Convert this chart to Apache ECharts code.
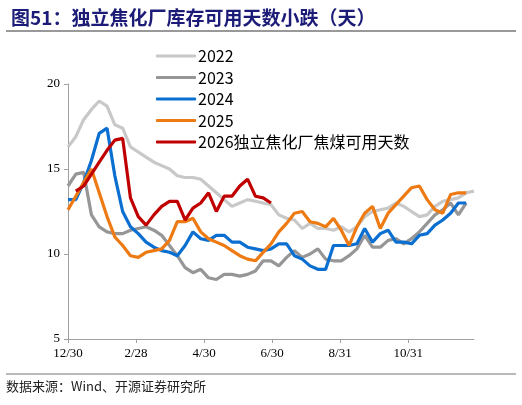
<!DOCTYPE html>
<html><head><meta charset="utf-8">
<script src="https://cdn.jsdelivr.net/npm/echarts@6/dist/echarts.min.js"></script>
<style>body{margin:0;background:#fff}#c{width:522px;height:405px}</style>
</head><body><div id="c"></div>
<script>
const tickDays=[0,61,122,183,244,305];
const tickLabels=['12/30','2/28','4/30','6/30','8/31','10/31'];
const s2022=[16.3,16.9,17.9,18.5,19.0,18.7,17.6,17.4,16.3,16.0,15.7,15.4,15.2,15.0,14.6,14.5,14.5,14.4,14.0,13.6,13.2,12.8,13.0,13.2,13.1,13.0,12.9,12.3,12.1,12.0,11.5,11.8,11.5,11.5,11.4,11.6,11.3,11.6,12.2,12.5,12.6,12.7,13.0,12.8,12.5,12.2,12.3,12.8,13.1,13.2,13.3,13.6,13.7];
const s2023=[14.0,14.7,14.8,12.3,11.6,11.3,11.2,11.2,11.4,11.5,11.6,11.4,11.1,10.5,9.9,9.2,8.9,9.1,8.6,8.5,8.8,8.8,8.7,8.8,9.0,9.6,9.6,9.3,9.8,10.2,9.8,10.0,10.3,9.7,9.6,9.6,9.9,10.3,11.1,10.4,10.4,10.8,10.9,10.6,10.9,11.3,11.8,12.3,12.6,13.0,12.3,13.0,null];
const s2024=[13.2,13.2,14.2,15.5,17.1,17.4,14.6,12.5,11.6,11.2,10.7,10.4,10.2,10.1,9.9,10.5,11.3,10.9,10.8,11.1,11.1,10.7,10.7,10.4,10.3,10.2,10.3,10.6,10.6,9.9,9.7,9.3,9.1,9.1,10.5,10.5,10.5,10.6,11.5,10.7,11.2,11.4,10.7,10.7,10.6,11.1,11.2,11.7,12.0,12.4,13.0,13.0,null];
const s2025=[12.6,13.4,14.2,15.0,13.6,12.2,11.0,10.5,9.9,9.8,10.1,10.2,10.3,10.8,11.9,11.9,12.1,11.3,10.9,10.7,10.5,10.2,9.9,9.7,9.6,10.1,10.6,11.3,11.8,12.4,12.5,11.9,11.8,11.6,12.1,11.4,10.5,11.6,12.4,12.8,11.5,12.4,12.9,13.4,13.9,14.0,13.2,12.6,12.4,13.5,13.6,13.6,null];
const s2026=[null,13.7,14.0,14.7,15.4,16.1,16.7,16.8,13.3,12.2,11.7,12.3,12.8,13.1,13.1,12.0,12.7,13.0,13.6,12.5,13.4,13.4,14.0,14.4,13.4,13.3,13.0];
const names=['2022','2023','2024','2025','2026独立焦化厂焦煤可用天数'];
const colors=['#c8c8c8','#969696','#0a6fd0','#ee7a14','#c00000'];
const all=[s2022,s2023,s2024,s2025,s2026];
const series=all.map((arr,k)=>({name:names[k],type:'line',symbol:'none',
  lineStyle:{width:3.2,color:colors[k]},itemStyle:{color:colors[k]},
  data:arr.map((v,i)=>[i*7,v]),connectNulls:false,z:k}));
const ch=echarts.init(document.getElementById('c'));
ch.setOption({
  animation:false,
  title:{text:'图51：独立焦化厂库存可用天数小跌（天）',left:6,top:3,
    textStyle:{color:'#1c1c78',fontSize:19,fontWeight:'bold',fontFamily:'Noto Sans CJK SC'}},
  graphic:[
    {type:'line',shape:{x1:6,y1:31,x2:516,y2:31},style:{stroke:'#777',lineWidth:1.5}},
    {type:'line',shape:{x1:6,y1:374,x2:516,y2:374},style:{stroke:'#777',lineWidth:1.2}},
    {type:'text',left:6,top:380,style:{text:'数据来源：Wind、开源证券研究所',fill:'#222',font:'13px "Noto Sans CJK SC"'}}
  ],
  legend:{orient:'vertical',left:151,top:43,itemWidth:40,itemHeight:3,itemGap:5.5,
    icon:'roundRect',textStyle:{fontSize:16,color:'#000',fontFamily:'Noto Sans CJK SC',padding:[0,0,0,-3]},
    data:names},
  grid:{left:68,right:48,top:84,bottom:66},
  xAxis:{type:'value',min:0,max:364,interval:61,
    axisLine:{lineStyle:{color:'#a0a0a0'}},axisTick:{show:true,length:4,lineStyle:{color:'#a0a0a0'}},
    splitLine:{show:false},
    axisLabel:{showMaxLabel:false,color:'#000',fontFamily:'Liberation Serif',fontSize:13,margin:8,
      formatter:v=>{const i=tickDays.indexOf(v);return i>=0?tickLabels[i]:'';}}},
  yAxis:{type:'value',min:5,max:20,interval:5,
    axisLine:{show:true,lineStyle:{color:'#a0a0a0'}},axisTick:{show:true,length:4,lineStyle:{color:'#a0a0a0'}},
    splitLine:{show:false},
    axisLabel:{color:'#000',fontFamily:'Liberation Serif',fontSize:13,margin:8}},
  series
});
</script></body></html>
